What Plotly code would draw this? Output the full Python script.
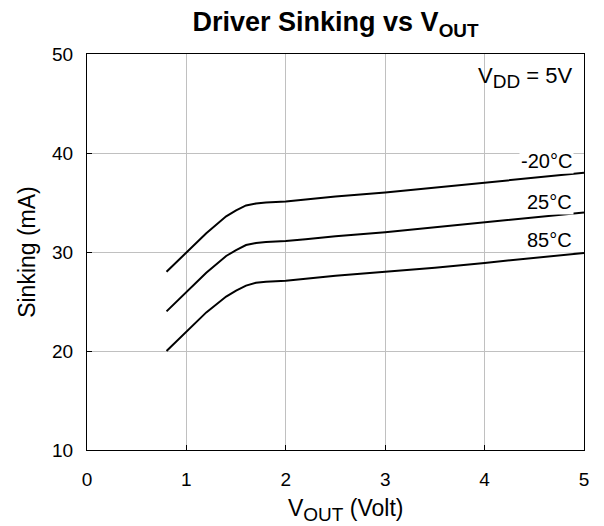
import plotly.graph_objects as go

vout = [0.8, 1.0, 1.2, 1.4, 1.5, 1.6, 1.7, 1.8, 2.0, 2.2, 2.4, 2.5, 3.0, 3.5, 4.0, 4.5, 5.0]
sink_m20 = [28.0, 30.0, 31.9, 33.6, 34.2, 34.7, 34.9, 35.0, 35.1, 35.3, 35.5, 35.6, 36.0, 36.5, 37.0, 37.5, 38.0]
sink_25 = [24.0, 26.0, 27.9, 29.6, 30.2, 30.7, 30.9, 31.0, 31.1, 31.3, 31.5, 31.6, 32.0, 32.5, 33.0, 33.5, 34.0]
sink_85 = [20.0, 22.0, 23.9, 25.5, 26.1, 26.6, 26.9, 27.0, 27.1, 27.3, 27.5, 27.6, 28.0, 28.4, 28.9, 29.4, 29.9]
series_names = ["-20°C", "25°C", "85°C"]
label_y = [39.2, 35.05, 31.2]
x_ticks = [0, 1, 2, 3, 4, 5]
y_ticks = [10, 20, 30, 40, 50]

FONT = "Liberation Sans, Arial, sans-serif"

fig = go.Figure()
for name, ys in zip(series_names, [sink_m20, sink_25, sink_85]):
    fig.add_trace(go.Scatter(x=vout, y=ys, mode="lines", name=name,
                             line=dict(color="black", width=2), showlegend=False))

for name, ly in zip(series_names, label_y):
    fig.add_annotation(x=4.90, y=ly, xref="x", yref="y", text=name, showarrow=False,
                       xanchor="right", yanchor="middle", bgcolor="white",
                       font=dict(family=FONT, size=20, color="black"), borderpad=1)

fig.add_annotation(x=4.895, y=47.6, xref="x", yref="y",
                   text="V<sub><span style='font-size:19px'>DD</span></sub> = 5V",
                   showarrow=False, xanchor="right", yanchor="middle",
                   font=dict(family=FONT, size=22, color="black"))

# axis titles
fig.add_annotation(x=2.606, y=-0.152, xref="x", yref="paper",
                   text="V<sub><span style='font-size:19px'>OUT</span></sub> (Volt)",
                   showarrow=False, xanchor="center", yanchor="middle",
                   font=dict(family=FONT, size=23, color="black"))
fig.add_annotation(x=-0.121, y=0.5, xref="paper", yref="paper", text="Sinking (mA)",
                   textangle=-90, showarrow=False, xanchor="center", yanchor="middle",
                   font=dict(family=FONT, size=23, color="black"))

fig.update_layout(
    width=588, height=518,
    margin=dict(l=79, r=12, t=46, b=76),
    paper_bgcolor="white", plot_bgcolor="white",
    font=dict(family=FONT, size=19, color="black"),
    title=dict(text="<b>Driver Sinking vs V<sub>OUT</sub></b>", x=0.557, xanchor="center",
               y=1 - 14 / 518, yanchor="middle", font=dict(family=FONT, size=27, color="black")),
)
fig.update_xaxes(range=[0, 5], tickvals=x_ticks, showgrid=True, gridcolor="#c0c0c0", gridwidth=1,
                 showline=True, linecolor="black", linewidth=1, mirror=True,
                 ticks="inside", ticklen=5, tickcolor="black", zeroline=False,
                 automargin=False, ticklabelstandoff=12,
                 tickfont=dict(size=19))
fig.update_yaxes(range=[10, 50], tickvals=y_ticks, showgrid=True, gridcolor="#c0c0c0", gridwidth=1,
                 showline=True, linecolor="black", linewidth=1, mirror=True,
                 ticks="inside", ticklen=5, tickcolor="black", zeroline=False,
                 automargin=False, ticklabelstandoff=9,
                 tickfont=dict(size=19))

fig.write_html("out.html")
